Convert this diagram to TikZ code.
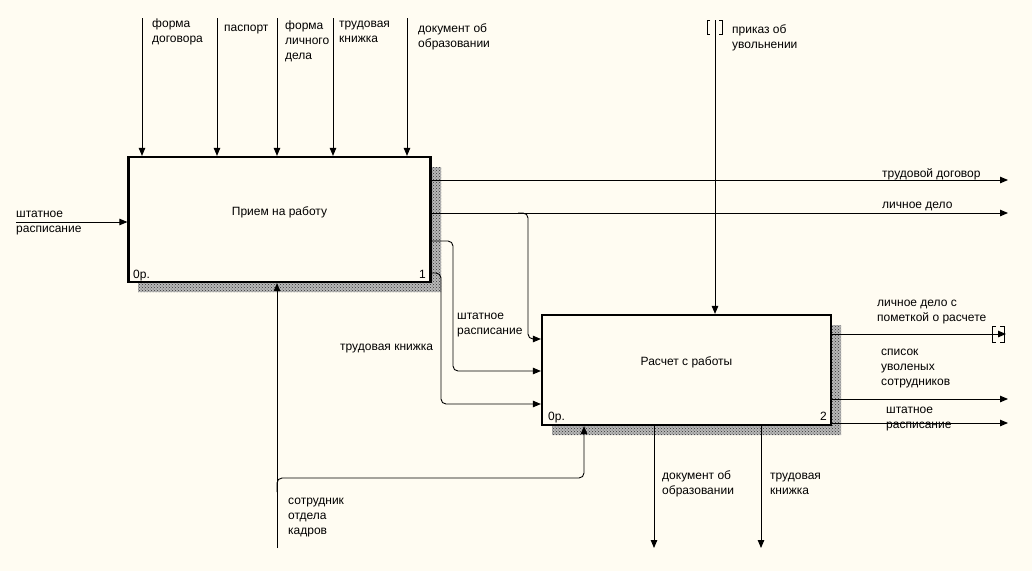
\documentclass[tikz,border=0pt]{standalone}
\usepackage{fontspec}
\setmainfont{Liberation Sans}
\usetikzlibrary{arrows.meta,positioning,calc,patterns}
\definecolor{paper}{RGB}{255,252,242}

\begin{document}
\begin{tikzpicture}[x=1pt, y=-1pt,
  >={Triangle[length=8pt,width=6.5pt]}, font={\fontsize{12}{15}\selectfont},
  fn/.style={draw, line width=2.2pt, fill=paper, inner sep=0pt},
  arr/.style={->, line width=0.9pt, rounded corners=5pt},
  lab/.style={anchor=north west, inner sep=0pt, align=left, execute at begin node=\strut},
  tag/.style={inner sep=0pt},
  shade/.style={pattern=crosshatch dots, pattern color=black!80}]
\fill[paper] (0,0) rectangle (1032,571);
\useasboundingbox (0,0) rectangle (1032,571);
% shadows of the two activity boxes
\fill[black!28] (431,167) -- (441,167) -- (441,292) -- (138,292) -- (138,283) -- (431,283) -- cycle;
\fill[shade] (431,167) -- (441,167) -- (441,292) -- (138,292) -- (138,283) -- (431,283) -- cycle;
\fill[black!28] (832,325) -- (841,325) -- (841,435) -- (552,435) -- (552,426) -- (832,426) -- cycle;
\fill[shade] (832,325) -- (841,325) -- (841,435) -- (552,435) -- (552,426) -- (832,426) -- cycle;
% activities
\node[fn, minimum width=302pt, minimum height=125pt, label={[yshift=7pt]center:Прием на работу}] (hire) at (279.5,219.5) {};
\node[fn, minimum width=289pt, minimum height=110pt, label={[yshift=8pt]center:Расчет с работы}] (calc) at (686.5,370) {};
\node[tag, anchor=base west] (hireCost) at (133,278) {0р.};
\node[tag, anchor=base east] (hireNo) at (426,278) {1};
\node[tag, anchor=base west] (calcCost) at (548,420) {0р.};
\node[tag, anchor=base east] (calcNo) at (827,420) {2};
% controls of box 1
\foreach \cx [count=\i] in {142,217,277,333,407} {
  \coordinate (ctl\i) at (\cx,18);
  \draw[arr] (ctl\i) -- (ctl\i |- hire.north);
}
\node[lab] (lForm) at (152,18.5) {форма\\договора};
\node[lab] (lPass) at (224,20.5) {паспорт};
\node[lab] (lCase) at (285,20.5) {форма\\личного\\дела};
\node[lab] (lBook) at (339,20.5) {трудовая\\книжка};
\node[lab] (lEdu) at (418,23.5) {документ об\\образовании};
% input of box 1
\coordinate (inp) at (16,222);
\draw[arr] (inp) -- (inp -| hire.west);
\node[lab] (lStaff) at (16,210.5) {штатное\\расписание};
% outputs of box 1
\coordinate (out1) at (1008,180);
\coordinate (out2) at (1008,213);
\draw[arr] (out1 -| hire.east) -- (out1);
\draw[arr] (out2 -| hire.east) -- (out2);
\node[lab] (lContract) at (882,167) {трудовой договор};
\node[lab] (lFile) at (882,198) {личное дело};
% links box 1 -> box 2
\coordinate (jn) at (518,213);
\coordinate (in1) at (528,339);
\coordinate (o3) at (453,241);
\coordinate (in2) at (453,371);
\coordinate (o4) at (441,273);
\coordinate (in3) at (441,404);
\draw[arr] (jn) -| (in1) -- (in1 -| calc.west);
\draw[arr] (o3 -| hire.east) -- (o3) -- (in2) -- (in2 -| calc.west);
\draw[arr] (o4 -| hire.east) -- (o4) -- (in3) -- (in3 -| calc.west);
\node[lab] (lStaff2) at (457,312.5) {штатное\\расписание};
\node[lab] (lBook2) at (340,339.5) {трудовая книжка};
% control of box 2 with tunnel
\coordinate (order) at (715,20);
\draw[arr] (order) -- (order |- calc.north);
\draw[line width=0.9pt] (710,20) -- (707,20) -- (707,34) -- (710,34);
\draw[line width=0.9pt] (719,20) -- (722,20) -- (722,34) -- (719,34);
\node[lab] (lOrder) at (732,24.5) {приказ об\\увольнении};
% mechanisms
\coordinate (mech) at (277,548);
\draw[arr] (mech) -- (mech |- hire.south);
\coordinate (mj) at (277,492);
\coordinate (mk) at (584,478);
\draw[arr] (mj) |- (mk) -- (mk |- calc.south);
\node[lab] (lClerk) at (288,497.5) {сотрудник\\отдела\\кадров};
% outputs of box 2
\coordinate (r1) at (1006,334);
\coordinate (r2) at (1008,399);
\coordinate (r3) at (1008,423);
\draw[arr] (r1 -| calc.east) -- (r1);
\draw[arr] (r2 -| calc.east) -- (r2);
\draw[arr] (r3 -| calc.east) -- (r3);
\draw[line width=0.9pt] (996,326) -- (992,326) -- (992,342) -- (996,342);
\draw[line width=0.9pt] (1000,326) -- (1004,326) -- (1004,342) -- (1000,342);
\node[lab] (lMarked) at (877,299.5) {личное дело с\\пометкой о расчете};
\node[lab] (lList) at (881,348.5) {список\\уволеных\\сотрудников};
\node[lab] (lStaff3) at (886,406.5) {штатное\\расписание};
\coordinate (d1) at (654,548);
\coordinate (d2) at (761,548);
\draw[arr] (d1 |- calc.south) -- (d1);
\draw[arr] (d2 |- calc.south) -- (d2);
\node[lab] (lEdu2) at (662,470.5) {документ об\\образовании};
\node[lab] (lBook3) at (770,472.5) {трудовая\\книжка};
\end{tikzpicture}
\end{document}
